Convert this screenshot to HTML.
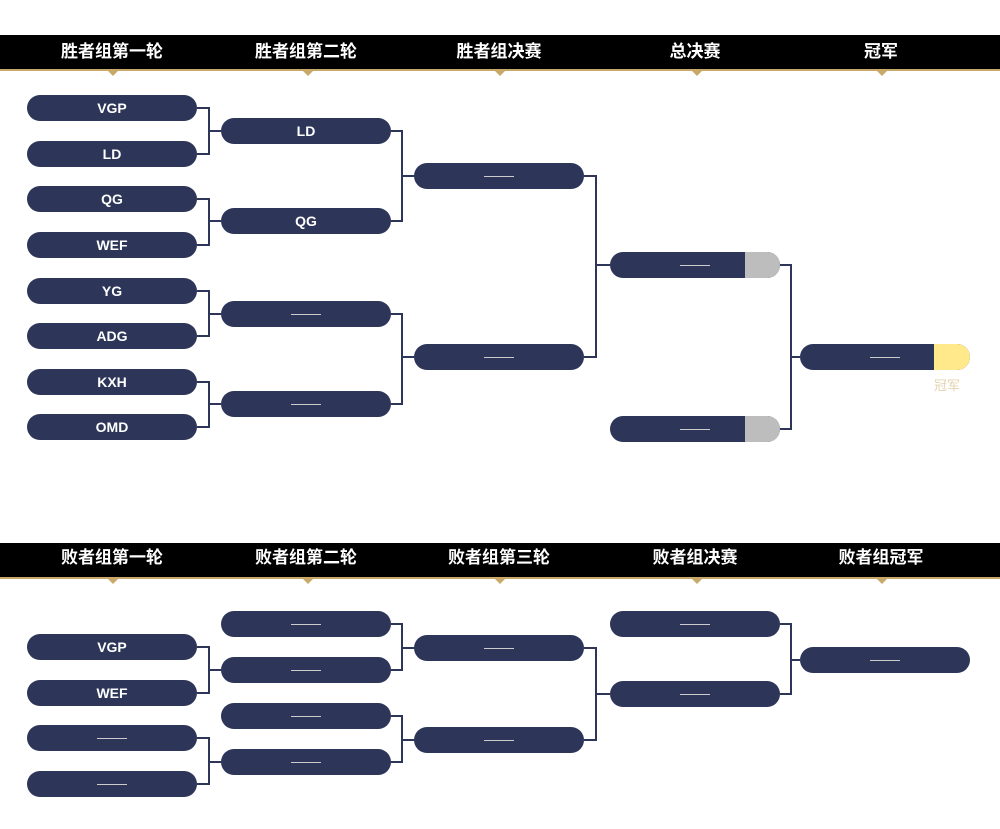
<!DOCTYPE html>
<html><head><meta charset="utf-8"><style>
body{margin:0;width:1000px;height:829px;background:#fff;position:relative;overflow:hidden;font-family:"Liberation Sans","Noto Sans CJK SC",sans-serif}
.hd{position:absolute;left:0;width:1000px;height:34px;background:#000}
.gl{position:absolute;left:0;width:1000px;height:2px;background:#c8a96a}
.tri{position:absolute;width:0;height:0;border-left:5px solid transparent;border-right:5px solid transparent;border-top:5px solid #c8a96a}
.ht{position:absolute;color:#fff;font-weight:bold;font-size:17px;width:200px;text-align:center;line-height:34px}
.p{position:absolute;width:170px;height:26px;border-radius:13px;background:#2d3659;color:#fff;font-size:14px;font-weight:bold;text-align:center;line-height:26px;overflow:hidden}
.d{position:absolute;left:70px;top:13px;width:30px;height:1px;background:#ccc}
.g{position:absolute;right:0;top:0;width:35px;height:26px;background:#bdbdbd}
.y{position:absolute;right:0;top:0;width:36px;height:26px;background:#ffe98a}
svg{position:absolute;left:0;top:0}
</style></head><body>
<div class="hd" style="top:35px"></div><div class="gl" style="top:69px"></div>
<div class="hd" style="top:543px"></div><div class="gl" style="top:577px"></div>
<div class="tri" style="left:108px;top:71px"></div><div class="tri" style="left:303px;top:71px"></div><div class="tri" style="left:495px;top:71px"></div><div class="tri" style="left:692px;top:71px"></div><div class="tri" style="left:877px;top:71px"></div>
<div class="tri" style="left:108px;top:579px"></div><div class="tri" style="left:303px;top:579px"></div><div class="tri" style="left:495px;top:579px"></div><div class="tri" style="left:692px;top:579px"></div><div class="tri" style="left:877px;top:579px"></div>
<div class="ht" style="left:12px;top:35px">胜者组第一轮</div><div class="ht" style="left:206px;top:35px">胜者组第二轮</div><div class="ht" style="left:399px;top:35px">胜者组决赛</div><div class="ht" style="left:595px;top:35px">总决赛</div><div class="ht" style="left:781px;top:35px">冠军</div>
<div class="ht" style="left:12px;top:541px">败者组第一轮</div><div class="ht" style="left:206px;top:541px">败者组第二轮</div><div class="ht" style="left:399px;top:541px">败者组第三轮</div><div class="ht" style="left:595px;top:541px">败者组决赛</div><div class="ht" style="left:781px;top:541px">败者组冠军</div>
<svg width="1000" height="829" fill="none" stroke="#2d3659" stroke-width="2">
<path d="M197 108H209V154H197M209 131H221M197 199H209V245H197M209 221H221M197 291H209V336H197M209 314H221M197 382H209V427H197M209 404H221"/>
<path d="M391 131H402V221H391M402 176H414M391 314H402V404H391M402 357H414"/>
<path d="M584 176H596V357H584M596 265H610"/>
<path d="M780 265H791V429H780M791 357H800"/>
<path d="M197 647H209V693H197M209 670H221M197 738H209V784H197M209 762H221"/>
<path d="M391 624H402V670H391M402 648H414M391 716H402V762H391M402 740H414"/>
<path d="M584 648H596V740H584M596 694H610"/>
<path d="M780 624H791V694H780M791 660H800"/>
</svg>
<div class="p" style="left:27px;top:95px">VGP</div><div class="p" style="left:27px;top:141px">LD</div><div class="p" style="left:27px;top:186px">QG</div><div class="p" style="left:27px;top:232px">WEF</div><div class="p" style="left:27px;top:278px">YG</div><div class="p" style="left:27px;top:323px">ADG</div><div class="p" style="left:27px;top:369px">KXH</div><div class="p" style="left:27px;top:414px">OMD</div>
<div class="p" style="left:221px;top:118px">LD</div><div class="p" style="left:221px;top:208px">QG</div><div class="p" style="left:221px;top:301px"><div class="d"></div></div><div class="p" style="left:221px;top:391px"><div class="d"></div></div>
<div class="p" style="left:414px;top:163px"><div class="d"></div></div><div class="p" style="left:414px;top:344px"><div class="d"></div></div>
<div class="p" style="left:610px;top:252px"><div class="d"></div><div class="g"></div></div><div class="p" style="left:610px;top:416px"><div class="d"></div><div class="g"></div></div>
<div class="p" style="left:800px;top:344px"><div class="d"></div><div class="y"></div></div>
<div style="position:absolute;left:934px;top:375px;color:#e3d3ae;font-size:13px">冠军</div>
<div class="p" style="left:27px;top:634px">VGP</div><div class="p" style="left:27px;top:680px">WEF</div><div class="p" style="left:27px;top:725px"><div class="d"></div></div><div class="p" style="left:27px;top:771px"><div class="d"></div></div>
<div class="p" style="left:221px;top:611px"><div class="d"></div></div><div class="p" style="left:221px;top:657px"><div class="d"></div></div><div class="p" style="left:221px;top:703px"><div class="d"></div></div><div class="p" style="left:221px;top:749px"><div class="d"></div></div>
<div class="p" style="left:414px;top:635px"><div class="d"></div></div><div class="p" style="left:414px;top:727px"><div class="d"></div></div>
<div class="p" style="left:610px;top:611px"><div class="d"></div></div><div class="p" style="left:610px;top:681px"><div class="d"></div></div>
<div class="p" style="left:800px;top:647px"><div class="d"></div></div>
</body></html>
